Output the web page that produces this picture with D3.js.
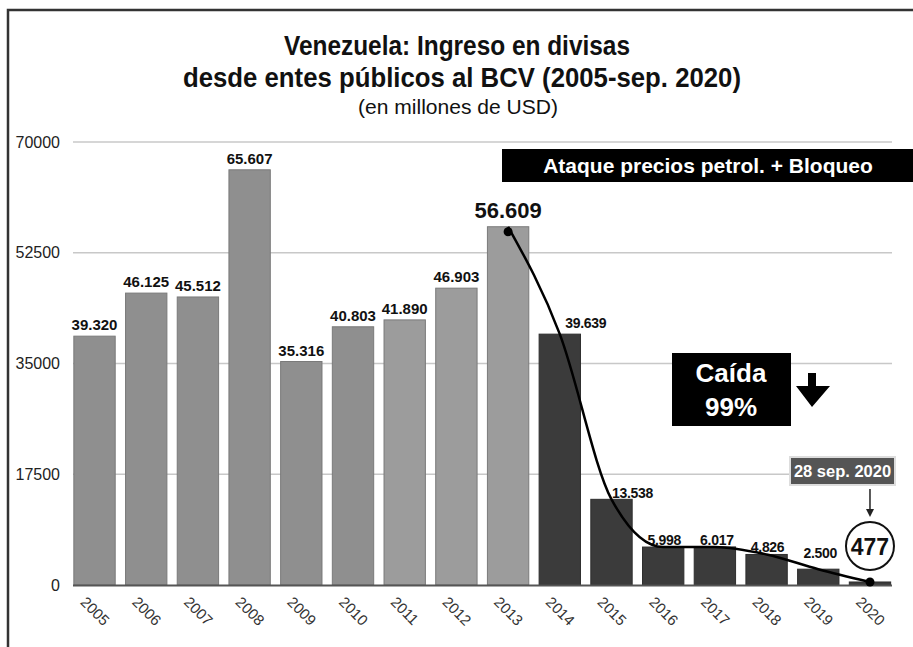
<!DOCTYPE html>
<html><head><meta charset="utf-8">
<script src="https://cdn.jsdelivr.net/npm/d3@7"></script>
<style>
html,body{margin:0;padding:0;background:#fff;}
svg{display:block;font-family:"Liberation Sans",Arial,Helvetica,sans-serif;}
</style></head>
<body>
<svg id="chart" width="913" height="647"></svg>
<script>
// ---- data ----
const years = ["2005","2006","2007","2008","2009","2010","2011","2012","2013","2014","2015","2016","2017","2018","2019","2020"];
const values = [39320,46125,45512,65607,35316,40803,41890,46903,56609,39639,13538,5998,6017,4826,2500,477];
const valueLabels = ["39.320","46.125","45.512","65.607","35.316","40.803","41.890","46.903","56.609","39.639","13.538","5.998","6.017","4.826","2.500","477"];
const yTicks = [0,17500,35000,52500,70000];
const titleLines = ["Venezuela: Ingreso en divisas","desde entes públicos al BCV  (2005-sep. 2020)"];
const subtitle = "(en millones de USD)";
const bannerText = "Ataque precios petrol. + Bloqueo";
const dropText = ["Caída","99%"];
const dateText = "28 sep. 2020";
const curveYears = ["2013","2014","2015","2016","2017","2018","2019","2020"];

const svg = d3.select("#chart");
const x = d3.scaleBand().domain(years).range([63.5, 901]).paddingInner(0.2).paddingOuter(0.2);
const y = d3.scaleLinear().domain([0, 70000]).range([585, 142]);
const cx = d => x(d) + x.bandwidth()/2;

// frame
svg.append("path").attr("d","M8,647 L8,10 L913,10").attr("fill","none").attr("stroke","#333").attr("stroke-width",2.5);

// title
const t = svg.append("g").attr("text-anchor","middle").attr("fill","#111");
t.append("text").attr("x",457).attr("y",55).attr("font-size",28).attr("font-weight","bold")
 .attr("textLength",346).attr("lengthAdjust","spacingAndGlyphs").text(titleLines[0]);
t.append("text").attr("x",462).attr("y",87).attr("font-size",28).attr("font-weight","bold")
 .attr("textLength",558).attr("lengthAdjust","spacingAndGlyphs").text(titleLines[1]);
t.append("text").attr("x",458).attr("y",114).attr("font-size",21)
 .attr("textLength",200).attr("lengthAdjust","spacingAndGlyphs").text(subtitle);

// grid + y labels
svg.append("g").selectAll("line").data(yTicks.slice(1)).join("line")
 .attr("x1",73).attr("x2",892).attr("y1",d=>y(d)).attr("y2",d=>y(d))
 .attr("stroke","#c8c8c8").attr("stroke-width",1.5);
svg.append("g").selectAll("text").data(yTicks).join("text")
 .attr("x",60).attr("y",d=>y(d)).attr("dy","0.35em").attr("text-anchor","end")
 .attr("font-size",16).attr("fill","#222").text(d=>d);

// bars
const barColor = (yr) => +yr <= 2010 ? "#8f8f8f" : (+yr <= 2013 ? "#9c9c9c" : "#3b3b3b");
svg.append("g").selectAll("rect").data(years).join("rect")
 .attr("x",d=>x(d)).attr("width",x.bandwidth())
 .attr("y",(d,i)=>y(values[i])).attr("height",(d,i)=>y(0)-y(values[i]))
 .attr("fill",d=>barColor(d)).attr("stroke",d=>+d<=2013?"#7a7a7a":"#2e2e2e").attr("stroke-width",1);

// axis baseline
svg.append("line").attr("x1",73).attr("x2",892).attr("y1",y(0)+0.5).attr("y2",y(0)+0.5)
 .attr("stroke","#555").attr("stroke-width",2);

// value labels
const labelDx = {"2014":26,"2015":21,"2016":1,"2017":2,"2018":1,"2019":2};
const labelDy = {"2014":-6,"2015":-1,"2016":-2,"2017":-2,"2018":-2,"2019":-11};
svg.append("g").selectAll("text").data(years.filter(d=>d!=="2020")).join("text")
 .attr("x",d=>cx(d)+(labelDx[d]||0))
 .attr("y",d=>y(values[years.indexOf(d)])+(labelDy[d]!==undefined?labelDy[d]:(d==="2013"?-9:-6)))
 .attr("text-anchor","middle").attr("font-weight","bold")
 .attr("font-size",d=>d==="2013"?22:(+d>=2014?14:15))
 .attr("letter-spacing",d=>+d>=2014?-0.3:0)
 .attr("fill","#111").text(d=>valueLabels[years.indexOf(d)]);

// x labels
svg.append("g").selectAll("text").data(years).join("text")
 .attr("transform",d=>`translate(${cx(d)-15},${603}) rotate(45)`)
 .attr("font-size",15).attr("fill","#333").text(d=>d);

// curve
const pts = curveYears.map(d=>[cx(d), y(values[years.indexOf(d)])]);
svg.append("path").attr("d",d3.line().curve(d3.curveMonotoneX)(pts))
 .attr("fill","none").attr("stroke","#000").attr("stroke-width",2.5);
svg.append("circle").attr("cx",pts[0][0]).attr("cy",pts[0][1]+5).attr("r",4.5).attr("fill","#000");
svg.append("circle").attr("cx",pts[pts.length-1][0]).attr("cy",pts[pts.length-1][1]).attr("r",4.5).attr("fill","#000");

// banner
svg.append("rect").attr("x",502).attr("y",149).attr("width",411).attr("height",33).attr("fill","#000");
svg.append("text").attr("x",708).attr("y",173).attr("text-anchor","middle").attr("font-weight","bold")
 .attr("font-size",21).attr("fill","#fff").text(bannerText);

// drop box
svg.append("rect").attr("x",672).attr("y",353).attr("width",119).attr("height",73).attr("fill","#000");
svg.append("text").attr("x",731).attr("y",382).attr("text-anchor","middle").attr("font-weight","bold")
 .attr("font-size",26).attr("fill","#fff").text(dropText[0]);
svg.append("text").attr("x",731).attr("y",416).attr("text-anchor","middle").attr("font-weight","bold")
 .attr("font-size",26).attr("fill","#fff").text(dropText[1]);
// down arrow
svg.append("path").attr("d","M808,373 L816,373 L816,386 L830,386 L812,407 L796,386 L808,386 Z").attr("fill","#000");

// date box
const dx = cx("2020");
svg.append("rect").attr("x",790).attr("y",457).attr("width",105).attr("height",28).attr("fill","#555")
 .attr("stroke","#ddd").attr("stroke-width",2);
svg.append("text").attr("x",842.5).attr("y",477).attr("text-anchor","middle").attr("font-weight","bold")
 .attr("font-size",16.5).attr("fill","#fff").text(dateText);
svg.append("line").attr("x1",dx).attr("x2",dx).attr("y1",489).attr("y2",515).attr("stroke","#222").attr("stroke-width",1.5);
svg.append("path").attr("d",`M${dx-4},509 L${dx+4},509 L${dx},517 Z`).attr("fill","#222");
svg.append("circle").attr("cx",dx).attr("cy",546).attr("r",24).attr("fill","#fff").attr("stroke","#111").attr("stroke-width",2);
svg.append("text").attr("x",dx).attr("y",555).attr("text-anchor","middle").attr("font-weight","bold")
 .attr("font-size",23).attr("fill","#111").text(valueLabels[15]);
</script>
</body></html>
